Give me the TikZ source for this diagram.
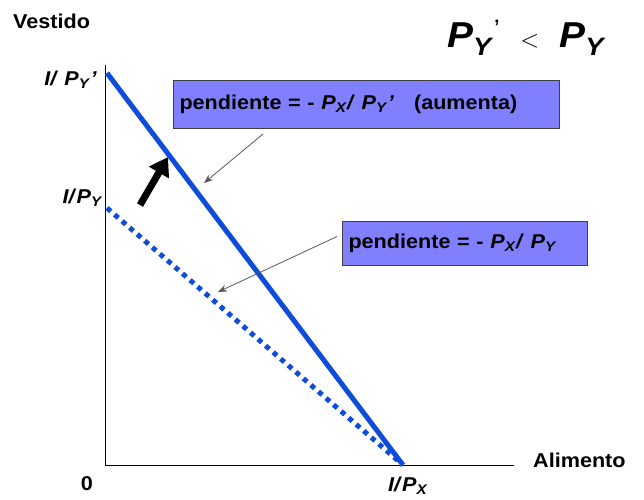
\documentclass[tikz,border=0pt]{standalone}
\usepackage{fontspec}
\setmainfont[FakeStretch=1.08]{Liberation Sans}
\usepackage{tikz}
\usetikzlibrary{arrows.meta,positioning}
\definecolor{lineblue}{RGB}{16,76,220}
\definecolor{boxfill}{RGB}{128,128,255}
\newcommand{\pvar}[1]{\textit{P}\textsubscript{\textit{#1}}}

\begin{document}
\begin{tikzpicture}[x=1pt,y=-1pt,font=\bfseries\fontsize{20}{22}\selectfont,
    slopebox/.style={draw=black!75,line width=1pt,fill=boxfill,anchor=north west,inner sep=6pt,align=left},
    callout/.style={draw=black!65,line width=0.8pt,-{Stealth[length=9pt,width=7pt]}}]
        \useasboundingbox (0,0) rectangle (644,499);
        % axes
        \coordinate (O) at (105,465);
        \coordinate (ytop) at (105,65);
        \coordinate (xend) at (514,465);
        \draw[line width=1pt] (ytop)--(O)--(xend);
        % budget lines
        \coordinate (A) at (107,73);
        \coordinate (B) at (107,208);
        \coordinate (C) at (403,465);
        \draw[lineblue,line width=5pt,dash pattern=on 5pt off 5pt] (B)--(C);
        \draw[lineblue,line width=5pt] (A)--(C);
        % labels
        \node (vest) [anchor=base west,inner sep=0pt] at (13,28) {Vestido};
        \node (alim) [anchor=base west,inner sep=0pt] at (533,467) {Alimento};
        \node (zero) [anchor=base,inner sep=0pt] at (87,490) {0};
        \node (ipx) [anchor=base west,inner sep=0pt] at (388,491) {\textit{I/}\pvar{X}};
        \node (ipy) [anchor=base east,inner sep=0pt] at (103,203) {\textit{I/}\pvar{Y}};
        \node (ipyp) [anchor=base east,inner sep=0pt] at (97,85) {\textit{I/ }\pvar{Y}\textit{'}};
        \node (title) [anchor=base west,inner sep=0pt] at (447,47) {\fontsize{36}{40}\selectfont\pvar{Y}\textsuperscript{\normalfont'}\;\;{\fontsize{34}{34}\selectfont$<$}\;\;\pvar{Y}};
        % slope boxes
        \node[slopebox,text width=374pt,minimum height=48pt] (box1) at (173,80) {pendiente = - \pvar{X}\textit{/ }\pvar{Y}\textit{'}\quad(aumenta)};
        \node[slopebox,text width=233pt,minimum height=44pt] (box2) at (342,221) {pendiente = - \pvar{X}\textit{/ }\pvar{Y}};
        \coordinate (tip1) at (204,183);
        \coordinate (tip2) at (218,292);
        \draw[callout] ([xshift=90pt,yshift=-5pt]box1.south west)--(tip1);
        \draw[callout] ([xshift=-5pt,yshift=7pt]box2.west)--(tip2);
        % shift arrow
        \coordinate (s0) at (140,205);
        \coordinate (s1) at (168,157);
        \draw[line width=7pt,-{Triangle[length=18pt,width=22pt]}] (s0)--(s1);
      \end{tikzpicture}
\end{document}
